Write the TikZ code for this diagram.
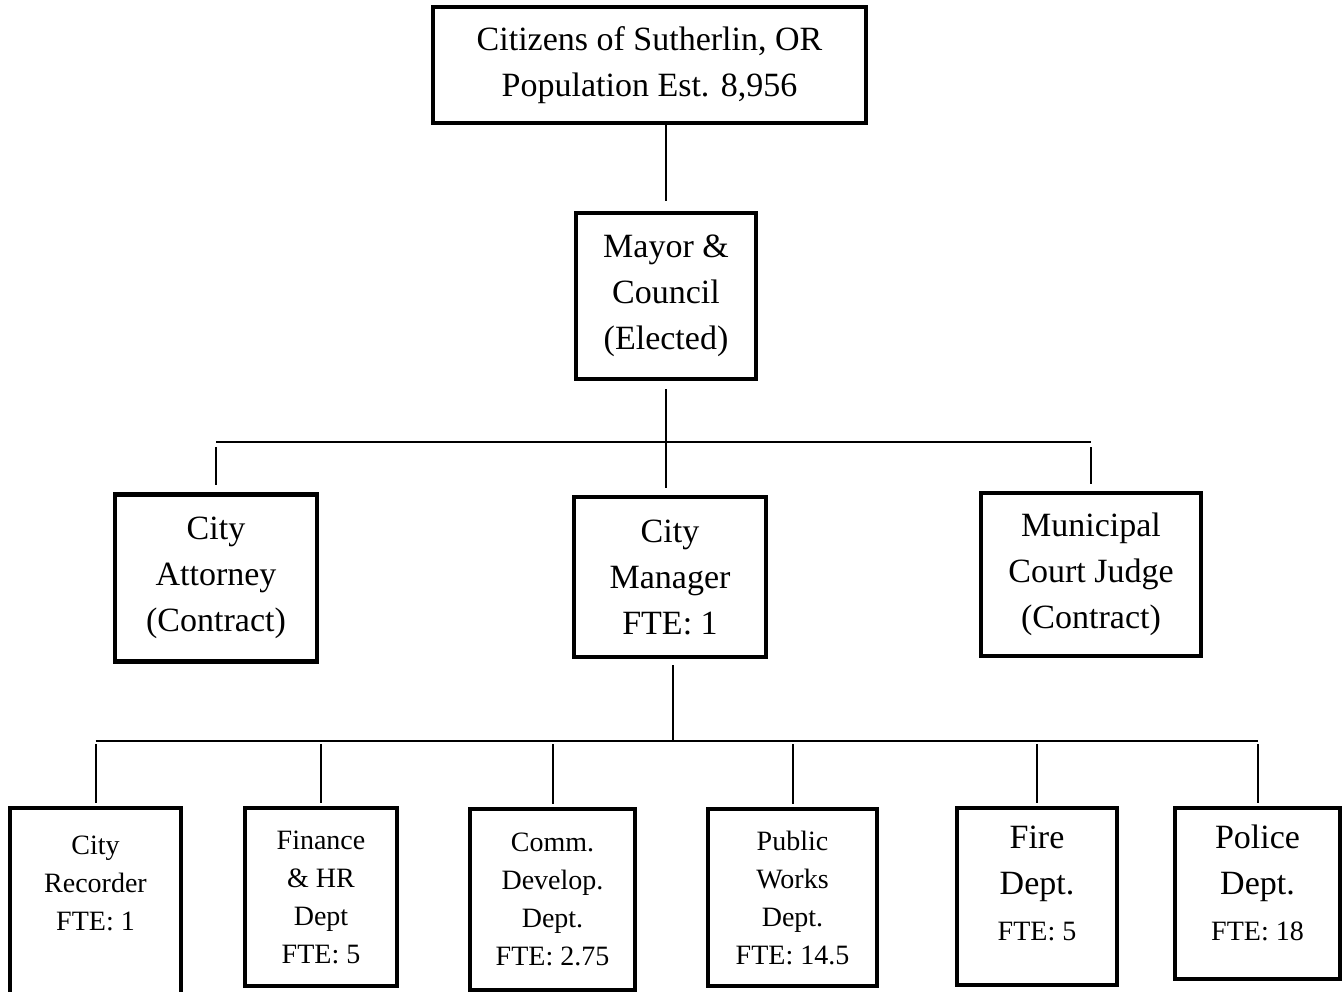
\documentclass[tikz,border=0pt]{standalone}
\usepackage{fontspec}
\setmainfont{Liberation Serif}
\usetikzlibrary{positioning}

\begin{document}
\begin{tikzpicture}[x=1pt,y=-1pt,line width=2pt,
    box/.style={draw,line width=4.5pt,align=center,inner sep=0pt,font=\fontsize{34}{46}\selectfont},
    dept/.style={box,font=\fontsize{28}{38}\selectfont}]
  \useasboundingbox (0,0) rectangle (1343,992);
  % top levels
  \node[box,minimum width=433,minimum height=116](citizens) at (649.5,65) {Citizens of Sutherlin, OR\\Population Est. 8,956};
  \node[box,minimum width=180,minimum height=166](mayor) at (666,296) {Mayor \&\\Council\\(Elected)};
  \node[box,minimum width=202,minimum height=167](attorney) at (216,578) {City\\Attorney\\(Contract)};
  \node[box,minimum width=192,minimum height=160](manager) at (670,577) {City\\Manager\\FTE: 1};
  \node[box,minimum width=220,minimum height=163](judge) at (1091,574.5) {Municipal\\Court Judge\\(Contract)};
  % departments
  \node[dept,minimum width=171,minimum height=187,text depth=37](recorder) at (95.5,901.5) {City\\Recorder\\FTE: 1};
  \node[dept,minimum width=152,minimum height=178](finance) at (321,897) {Finance\\\& HR\\Dept\\FTE: 5};
  \node[dept,minimum width=165,minimum height=181](comm) at (552.5,899.5) {Comm.\\Develop.\\Dept.\\FTE: 2.75};
  \node[dept,minimum width=169,minimum height=177](works) at (792.5,897.5) {Public\\Works\\Dept.\\FTE: 14.5};
  \node[box,minimum width=160,minimum height=177,text depth=27](fire) at (1037,896.5) {Fire\\Dept.\\{\fontsize{28}{38}\selectfont FTE: 5}};
  \node[box,minimum width=165,minimum height=171,text depth=21](police) at (1257.5,893.5) {Police\\Dept.\\{\fontsize{28}{38}\selectfont FTE: 18}};
  % connectors
  \coordinate (topbar) at (667,442);
  \coordinate (lowbar) at (673,741);
  \draw[shorten >=10pt] (citizens.south -| mayor.north) -- (mayor.north);
  \draw[shorten <=8pt,shorten >=7pt] (mayor.south) -- (mayor.south |- manager.north);
  \draw (attorney.north |- topbar) -- (judge.north |- topbar);
  \foreach \n in {attorney,judge}
    \draw[shorten <=5pt,shorten >=7pt] (\n.north |- topbar) -- (\n.north);
  \draw[shorten <=6pt] (manager.south -| lowbar) -- (lowbar);
  \draw (recorder.north |- lowbar) -- (police.north |- lowbar);
  \foreach \n in {recorder,finance,comm,works,fire,police}
    \draw[shorten <=3pt,shorten >=3pt] (\n.north |- lowbar) -- (\n.north);
\end{tikzpicture}
\end{document}
